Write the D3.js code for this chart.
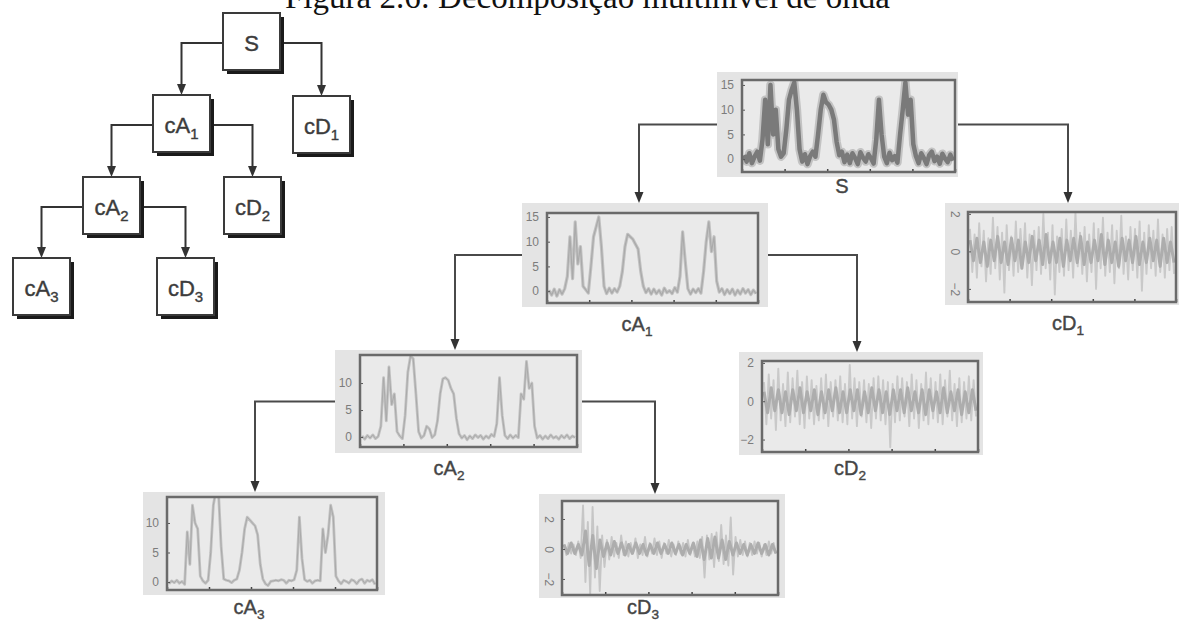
<!DOCTYPE html>
<html>
<head>
<meta charset="utf-8">
<script src="https://cdn.jsdelivr.net/npm/d3@7"></script>
<style>
  html, body { margin: 0; padding: 0; background: #fff; }
  svg { display: block; }
</style>
</head>
<body>
<svg id="chart" width="1179" height="622"></svg>
<script>
const title = 'Figura 2.6: Decomposição multinível de onda'

// tree labels: [base, subscript]
const treeLabels = {
  S: ['S', ''],
  cA1: ['cA', '1'],
  cD1: ['cD', '1'],
  cA2: ['cA', '2'],
  cD2: ['cD', '2'],
  cA3: ['cA', '3'],
  cD3: ['cD', '3'],
}
const treeEdges = [
  ['S', 'cA1', 'left'],
  ['S', 'cD1', 'right'],
  ['cA1', 'cA2', 'left'],
  ['cA1', 'cD2', 'right'],
  ['cA2', 'cA3', 'left'],
  ['cA2', 'cD3', 'right'],
]

// tick labels
const approxTicks = [0, 5, 10, 15]
const approxTicksShort = [0, 5, 10]
const detailTicks = [-2, 0, 2]

// signals
const sSignal = [0.8, -0.5, 1.2, -0.8, 0.5, 1.5, -0.3, 4, 12, 3, 15, 5, 10, 2, 0.5, 1.2, 6, 12, 14, 15.5,
  10, 2, -0.5, 1, -1, 0.6, 1.5, 0.5, 5, 10, 13, 11.5, 11, 10, 8, 3.5, 0.8, 1.5, -0.6, 0.9,
  -0.8, 1.2, 0.2, -1, 1.4, 0.3, -0.5, 1, 0.2, -0.9, 4, 12, 5, 0.5, -0.8, 1.3, -0.2, 0.6, -0.7, 5,
  10, 15.5, 9, 12, 3, 0.6, -0.8, 1.2, 0.2, -1, 0.8, 1.5, -0.4, 0.5, -0.9, 1.1, 0.1, -0.6, 0.9, -0.3]

const ca1Signal = [0.2, -0.8, 0.4, -1.0, 0.3, -0.6, 0.5, 3, 11, 2.5, 14, 5.5, 9, 1, 0.3, -0.4, 5, 11, 13, 15,
  9, 1, -0.5, 0.6, -0.4, 0.5, -0.2, 1, 4, 9, 11.5, 11, 10.5, 9.5, 8.5, 4, 1, -0.3, 0.5, -0.6,
  0.4, -0.5, 0.2, -0.8, 0.6, -0.3, 0.1, -0.5, 0.7, -0.2, 3, 12, 6, 0.5, -0.6, 0.4, -0.3, 0.5, -0.4, 4,
  10, 14, 8, 11, 2, -0.2, 0.5, -0.7, 0.3, -0.5, 0.4, -0.8, 0.2, -0.6, 0.5, -0.4, 0.3, -0.7, 0.2, -0.5]

const ca2Signal = [0.2, -0.4, 0.3, -0.2, 0.4, -0.3, 0.1, 2, 11, 3, 13, 6, 8, 1, 0.2, -0.3, 4, 12, 15, 14.5,
  8, 1, -0.2, 0.3, 2, 1.5, -0.1, 0.4, 3, 8, 10.8, 11, 10.5, 9, 8, 3.5, 0.6, -0.2, 0.3, -0.5,
  0.2, -0.3, 0.4, -0.1, 0.3, -0.4, 0.2, -0.2, 0.5, 0.1, 2.5, 11, 4, 0.3, -0.3, 0.4, -0.2, 0.3, -0.1, 8,
  7, 14, 9, 10, 2, -0.2, 0.3, -0.4, 0.2, -0.3, 0.4, -0.2, 0.1, -0.4, 0.3, -0.2, 0.4, -0.3, 0.2, -0.1]

const ca3Signal = [-0.3, 0.2, -0.1, 0.3, -0.2, 0.1, -0.4, 8.5, 3, 13, 10, 9, 1, 0.2, -0.2, 0.3, 5, 13, 15.5, 15,
  6, 0.5, 0.3, 0.2, -0.1, 0.3, 0.5, 2, 5, 9, 11, 10.5, 10, 9.5, 8, 3, 0.5, -0.3, -0.6, 0.1,
  0.2, 0.3, 0.2, 0.4, 0.3, -0.2, 0.3, 0.2, 0.4, 2, 11, 4, 0.4, 0.1, 0.3, -0.2, 0.2, 0.3, 0.2, 9,
  5, 8, 13, 11, 1, 0.2, -0.3, 0.3, 0.1, -0.2, 0.4, 0.2, -0.3, 0.3, 0.5, -0.2, 0.3, 0.1, 0.4, -0.4]

const cd1Signal = [1.2, -1.1, 0.9, -1.4, 1.5, -0.8, 1.1, -1.6, 0.7, -1.2, 1.8, -0.9, 1.3, -1.5, 1.0, -2.2, 1.4, -1.0,
  0.8, -1.3, 1.6, -1.1, 1.2, -0.7, 1.5, -1.4, 0.9, -1.8, 1.1, -1.0, 1.3, -1.2, 2.0, -0.9, 1.0, -1.5,
  1.4, -2.3, 0.8, -1.1, 1.2, -1.3, 1.7, -1.0, 1.1, -1.4, 2.1, -0.8, 1.0, -1.2, 1.3, -1.6, 0.9, -1.1,
  1.5, -2.0, 1.2, -0.9, 1.8, -1.3, 1.0, -1.1, 1.4, -1.7, 1.1, -0.9, 1.9, -1.2, 0.8, -1.5, 1.3, -1.0,
  1.2, -1.4, 1.6, -2.1, 1.0, -1.2, 1.4, -0.9, 1.1, -1.3, 1.7, -1.1, 0.9, -1.4, 1.2, -1.0, 1.3, -1.2]
const cd1Core = [0.6, -0.5, 0.7, -0.6, 0.5, -0.8, 0.6, -0.5, 0.8, -0.6, 0.5, -0.7, 0.7, -0.5, 0.6, -0.9, 0.5, -0.6, 0.8, -0.5,
  0.6, -0.7, 0.9, -0.6, 0.5, -0.6, 0.7, -0.8, 0.6, -0.5, 0.7, -0.6, 0.8, -0.7, 0.5, -0.6, 0.6, -0.5, 0.9, -0.7,
  0.6, -0.6, 0.5, -0.8, 0.7, -0.5, 0.6, -0.6, 0.8, -0.7, 0.5, -0.6, 0.7, -0.5, 0.6, -0.8, 0.7, -0.6, 0.5, -0.6]

const cd2Signal = [1.0, -1.2, 1.4, -0.9, 1.1, -1.5, 1.7, -1.0, 0.9, -1.3, 1.5, -1.1, 1.2, -0.8, 1.6, -1.2, 1.0, -1.4,
  1.3, -0.9, 1.1, -1.2, 0.8, -1.0, 1.2, -0.9, 1.4, -1.3, 1.0, -0.8, 1.1, -1.0, 1.3, -1.1, 0.9, -1.2,
  1.9, -0.9, 1.2, -1.3, 1.0, -0.8, 1.1, -1.1, 0.9, -1.4, 1.2, -0.9, 1.3, -1.0, 1.1, -1.2, 1.0, -2.4,
  0.9, -1.1, 1.3, -1.0, 1.2, -0.8, 1.0, -1.3, 1.4, -0.9, 1.1, -1.4, 0.9, -1.0, 1.5, -1.2, 1.2, -0.9,
  1.0, -1.1, 1.4, -1.2, 1.1, -0.8, 1.6, -1.0, 0.9, -1.3, 1.2, -1.1, 1.0, -0.9, 1.3, -1.0, 1.1, -0.8]
const cd2Core = [0.5, -0.6, 0.7, -0.5, 0.6, -0.6, 0.5, -0.7, 0.6, -0.5, 0.7, -0.6, 0.5, -0.5, 0.6, -0.7, 0.5, -0.6, 0.6, -0.5,
  0.7, -0.6, 0.5, -0.6, 0.6, -0.5, 0.6, -0.7, 0.5, -0.6, 0.7, -0.5, 0.6, -0.6, 0.5, -0.7, 0.6, -0.5, 0.6, -0.6,
  0.7, -0.5, 0.5, -0.6, 0.6, -0.7, 0.6, -0.5, 0.5, -0.6, 0.7, -0.6, 0.5, -0.5, 0.6, -0.7, 0.5, -0.6, 0.6, -0.5]

const cd3Signal = [0.3, -0.4, 0.4, -0.3, 0.3, -0.4, 0.5, -0.6, 2.9, -2.2, 1.8, -3.0, 2.8, -1.9, 1.5, -2.8, 0.9, -1.2,
  0.6, -0.7, 0.8, -0.5, 0.4, -0.6, 0.9, -0.4, 0.5, -0.5, 0.4, -0.3, 0.7, -0.6, 0.3, -0.4, 0.8, -0.5,
  0.4, -0.3, 0.7, -0.4, 0.5, -0.6, 0.4, -0.3, 0.6, -0.5, 0.3, -0.4, 0.5, -0.3, 0.4, -0.5, 0.6, -0.4,
  0.3, -0.5, 0.5, -0.6, 0.8, -1.9, 0.9, -0.7, 1.0, -1.2, 1.1, -0.8, 1.6, -1.0, 0.9, -1.1, 2.1, -1.7,
  0.8, -0.5, 0.6, -0.4, 0.5, -0.5, 0.4, -0.4, 0.5, -0.3, 0.4, -0.5, 0.3, -0.4, 0.5, -0.3, 0.4, -0.3]
const cd3Core = [0.3, -0.3, 0.4, -0.3, 0.3, -0.4, 1.2, -1.1, 0.9, -1.3, 0.6, -0.5, 0.4, -0.4, 0.5, -0.3, 0.4, -0.4, 0.3, -0.3,
  0.4, -0.3, 0.3, -0.4, 0.3, -0.3, 0.4, -0.3, 0.3, -0.3, 0.4, -0.3, 0.3, -0.4, 0.3, -0.3, 0.4, -0.5, 0.6, -0.7,
  0.7, -0.6, 0.8, -0.6, 0.6, -0.7, 0.5, -0.4, 0.4, -0.3, 0.3, -0.4, 0.3, -0.3, 0.4, -0.3, 0.3, -0.4, 0.3, -0.3]

// ---- layout ----
const boxSize = 57
const treeLayout = {
  S: [223, 13], cA1: [153, 95], cD1: [293, 96],
  cA2: [83, 177], cD2: [224, 177], cA3: [13, 258], cD3: [157, 258],
}

const panelLayout = {
  S: { bg: [717, 72, 958, 177], plot: [742, 80, 955, 172], label: [842, 193], domain: [-2.6, 16], ticks: approxTicks, arrowX: 639 },
  cA1: { bg: [522, 203, 768, 307], plot: [547, 213, 758, 303], label: [637, 331], domain: [-2.4, 15.8], ticks: approxTicks, arrowX: 639 },
  cD1: { bg: [945, 203, 1179, 305], plot: [968, 212, 1176, 302], label: [1068, 330], domain: [-2.7, 2.1], ticks: detailTicks, rotate: true, arrowX: 1068 },
  cA2: { bg: [335, 350, 582, 453], plot: [360, 355, 577, 447], label: [449, 475], domain: [-1.85, 15.2], ticks: approxTicksShort, arrowX: 455 },
  cD2: { bg: [739, 352, 983, 455], plot: [762, 361, 978, 452], label: [850, 475], domain: [-2.65, 2.1], ticks: detailTicks, arrowX: 857 },
  cA3: { bg: [143, 492, 385, 595], plot: [167, 497, 377, 590], label: [249, 614], domain: [-1.35, 14.4], ticks: approxTicksShort, arrowX: 255 },
  cD3: { bg: [539, 494, 785, 598], plot: [562, 501, 778, 595], label: [643, 614], domain: [-3.07, 3.2], ticks: detailTicks, rotate: true, arrowX: 655 },
}

const panelSeries = {
  S: [[sSignal, '#c3c3c3', 8.5], [sSignal, '#7a7a7a', 4.5]],
  cA1: [[ca1Signal, '#c2c2c2', 3.2], [ca1Signal, '#aaaaaa', 1.2]],
  cD1: [[cd1Signal, '#c9c9c9', 1.9], [cd1Core, '#adadad', 3]],
  cA2: [[ca2Signal, '#c2c2c2', 2.8], [ca2Signal, '#aaaaaa', 1]],
  cD2: [[cd2Signal, '#c9c9c9', 1.9], [cd2Core, '#adadad', 3]],
  cA3: [[ca3Signal, '#c2c2c2', 2.8], [ca3Signal, '#aaaaaa', 1]],
  cD3: [[cd3Signal, '#c6c6c6', 1.9], [cd3Core, '#adadad', 3]],
}

const svg = d3.select('#chart')
const defs = svg.append('defs')
const sansFont = 'Liberation Sans, Arial, sans-serif'

// title (clipped at top, as in the source page)
const titleText = svg.append('text')
  .attr('x', 285)
  .attr('y', 8)
  .attr('font-family', 'Liberation Serif, Times New Roman, serif')
  .attr('font-size', 30)
  .attr('fill', '#111')
  .text(title)
const tw = titleText.node().getComputedTextLength()
titleText.attr('font-size', (30 * 605) / tw)

function arrowHead(g, x, y, color) {
  g.append('path')
    .attr('d', `M${x - 4.5},${y - 11} L${x + 4.5},${y - 11} L${x},${y} Z`)
    .attr('fill', color)
}

function addLabel(g, x, y, key, size, color) {
  const [base, sub] = treeLabels[key]
  const t = g.append('text')
    .attr('x', x)
    .attr('y', y)
    .attr('text-anchor', 'middle')
    .attr('font-family', sansFont)
    .attr('font-size', size)
    .attr('fill', color)
    .attr('stroke', color)
    .attr('stroke-width', 0.4)
  t.append('tspan').text(base)
  if (sub) {
    t.append('tspan')
      .attr('font-size', size * 0.68)
      .attr('dy', size * 0.25)
      .text(sub)
  }
}

// ---- tree diagram ----
const tree = svg.append('g')

treeEdges.forEach(([p, c, side]) => {
  const [px, py] = treeLayout[p]
  const [cx, cy] = treeLayout[c]
  const startX = side === 'left' ? px : px + boxSize
  const hy = py + 30
  const ccx = cx + boxSize / 2
  tree.append('path')
    .attr('d', `M${startX},${hy} H${ccx} V${cy - 8}`)
    .attr('fill', 'none')
    .attr('stroke', '#333')
    .attr('stroke-width', 2)
  arrowHead(tree, ccx, cy, '#333')
})

Object.entries(treeLayout).forEach(([key, [x, y]]) => {
  tree.append('rect')
    .attr('x', x + 4).attr('y', y + 4)
    .attr('width', boxSize).attr('height', boxSize)
    .attr('fill', '#1a1a1a')
  tree.append('rect')
    .attr('x', x).attr('y', y)
    .attr('width', boxSize).attr('height', boxSize)
    .attr('fill', '#fff')
    .attr('stroke', '#3a3a3a')
    .attr('stroke-width', 2)
  addLabel(tree, x + boxSize / 2, y + 38, key, 22, '#3c3c3c')
})

// ---- signal panels ----
const panels = svg.append('g')

treeEdges.forEach(([p, c, side]) => {
  const pl = panelLayout[p]
  const cl = panelLayout[c]
  const startX = side === 'left' ? pl.bg[0] : pl.bg[2]
  const hy = (pl.bg[1] + pl.bg[3]) / 2
  panels.append('path')
    .attr('d', `M${startX},${hy} H${cl.arrowX} V${cl.bg[1] - 8}`)
    .attr('fill', 'none')
    .attr('stroke', '#4a4a4a')
    .attr('stroke-width', 2)
  arrowHead(panels, cl.arrowX, cl.bg[1], '#333')
})

function drawPanel(key) {
  const p = panelLayout[key]
  const [x0, y0, x1, y1] = p.plot
  const g = panels.append('g')

  g.append('rect')
    .attr('x', p.bg[0]).attr('y', p.bg[1])
    .attr('width', p.bg[2] - p.bg[0]).attr('height', p.bg[3] - p.bg[1])
    .attr('fill', '#e4e4e4')
  g.append('rect')
    .attr('x', x0).attr('y', y0)
    .attr('width', x1 - x0).attr('height', y1 - y0)
    .attr('fill', '#eaeaea')

  defs.append('clipPath').attr('id', 'clip-' + key)
    .append('rect')
    .attr('x', x0).attr('y', y0)
    .attr('width', x1 - x0).attr('height', y1 - y0)

  const y = d3.scaleLinear().domain(p.domain).range([y1, y0])

  const plot = g.append('g').attr('clip-path', `url(#clip-${key})`)
  panelSeries[key].forEach(([values, color, width]) => {
    const x = d3.scaleLinear().domain([0, values.length - 1]).range([x0 + 2, x1 - 2])
    const line = d3.line().x((d, i) => x(i)).y((d) => y(d))
    plot.append('path')
      .datum(values)
      .attr('d', line)
      .attr('fill', 'none')
      .attr('stroke', color)
      .attr('stroke-width', width)
      .attr('stroke-linejoin', 'round')
  })

  const yAxis = g.append('g')
    .attr('transform', `translate(${x0},0)`)
    .call(
      d3.axisLeft(y)
        .tickValues(p.ticks)
        .tickFormat(d3.format('d'))
        .tickSizeInner(-3)
        .tickSizeOuter(0)
        .tickPadding(8)
    )
  yAxis.select('.domain').remove()
  yAxis.selectAll('line').attr('stroke', '#555')
  yAxis.selectAll('text')
    .attr('font-family', sansFont)
    .attr('font-size', 12)
    .attr('fill', '#7c7c7c')
  if (p.rotate) {
    yAxis.selectAll('text')
      .attr('text-anchor', 'middle')
      .attr('x', -13)
      .attr('dy', '0.35em')
      .attr('transform', 'rotate(90,-13,0)')
  }

  const xb = d3.scaleLinear().domain([0, 5]).range([x0, x1])
  const xAxis = g.append('g')
    .attr('transform', `translate(0,${y1})`)
    .call(d3.axisBottom(xb).ticks(5).tickSizeInner(-3).tickSizeOuter(0).tickFormat(''))
  xAxis.select('.domain').remove()
  xAxis.selectAll('line').attr('stroke', '#444').attr('stroke-width', 1.5)

  g.append('rect')
    .attr('x', x0).attr('y', y0)
    .attr('width', x1 - x0).attr('height', y1 - y0)
    .attr('fill', 'none')
    .attr('stroke', '#6a6a6a')
    .attr('stroke-width', 2.5)

  addLabel(g, p.label[0], p.label[1], key, 20, '#454545')
}

Object.keys(panelLayout).forEach(drawPanel)
</script>
</body>
</html>
